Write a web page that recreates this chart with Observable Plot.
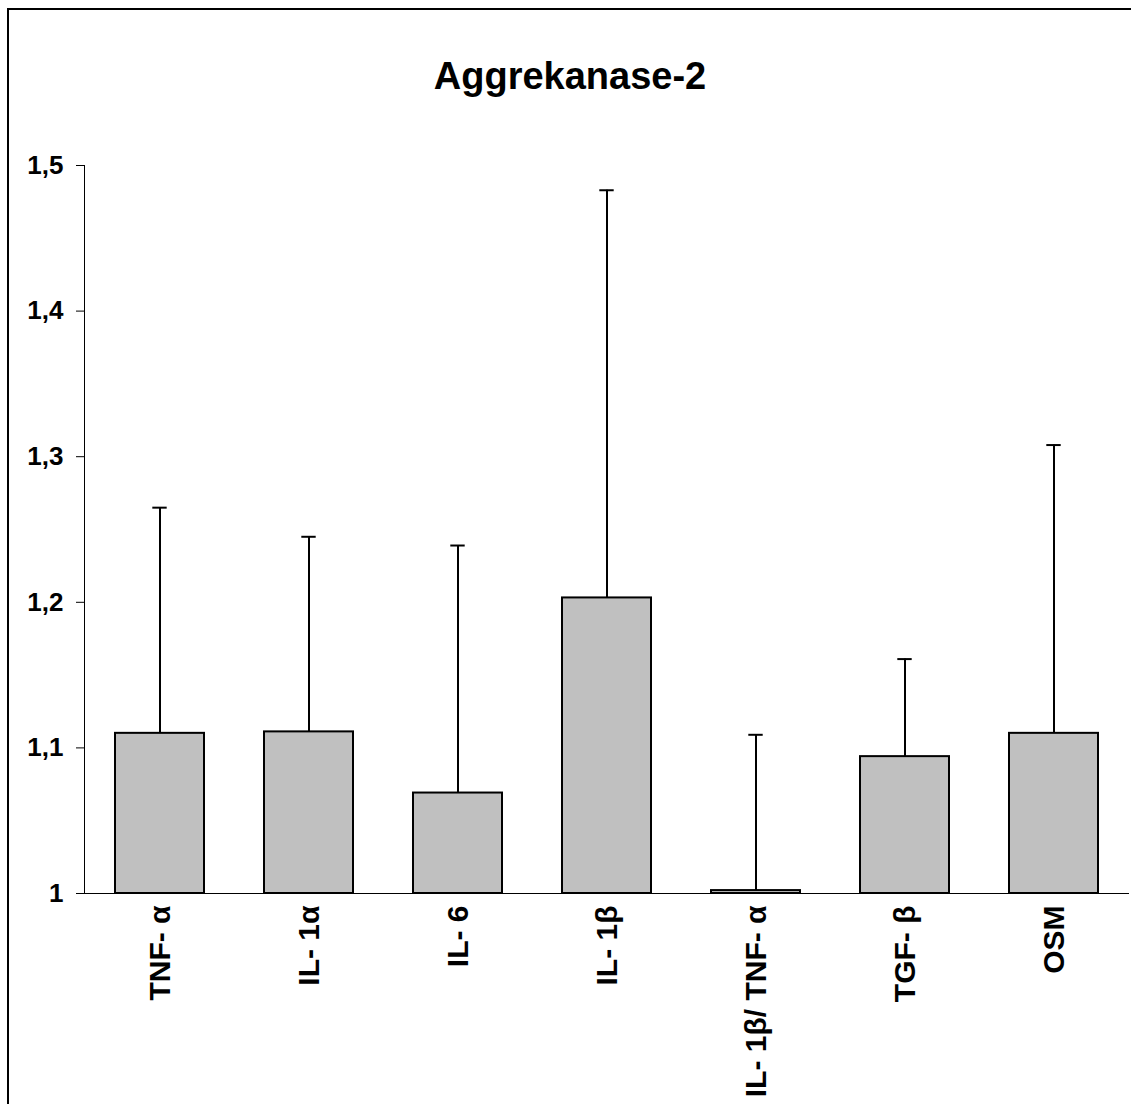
<!DOCTYPE html>
<html>
<head>
<meta charset="utf-8">
<script src="https://cdn.jsdelivr.net/npm/d3@7"></script>
<script src="https://cdn.jsdelivr.net/npm/@observablehq/plot@0.6"></script>
<style>
  html, body { margin: 0; padding: 0; background: #fff; overflow: hidden; }
  #wrap { position: relative; width: 1131px; height: 1104px; overflow: hidden; }
  #border { position: absolute; left: 7px; top: 8px; width: 1300px; height: 1300px;
            border-left: 2px solid #000; border-top: 2px solid #000; box-sizing: border-box; }
  #title { position: absolute; left: 0; top: 57px; width: 1140px; text-align: center;
           font-family: "Liberation Sans", Arial, sans-serif; font-weight: bold; font-size: 38px;
           line-height: 1; color: #000; }
  #chart { position: absolute; left: 0; top: 0; }
</style>
</head>
<body>
<div id="wrap">
  <div id="border"></div>
  <div id="title">Aggrekanase-2</div>
  <div id="chart"></div>
</div>
<script>
const categories = ["TNF- α", "IL- 1α", "IL- 6", "IL- 1β", "IL- 1β/ TNF- α", "TGF- β", "OSM"];
const means = [1.110, 1.111, 1.069, 1.203, 1.002, 1.094, 1.110];
const upper = [1.265, 1.245, 1.239, 1.483, 1.109, 1.161, 1.308];
const yTicks = [1, 1.1, 1.2, 1.3, 1.4, 1.5];
const yTickLabels = ["1", "1,1", "1,2", "1,3", "1,4", "1,5"];

const data = categories.map((c, i) => ({name: c, mean: means[i], upper: upper[i]}));

const plot = Plot.plot({
  width: 1131,
  height: 1104,
  marginTop: 165,
  marginBottom: 211,
  marginLeft: 84,
  marginRight: 2,
  style: {fontFamily: "'Liberation Sans', Arial, sans-serif", fontWeight: "bold", color: "#000", background: "transparent"},
  x: {domain: categories, paddingInner: 0.4, paddingOuter: 0.2, label: null},
  y: {domain: [1, 1.5], label: null},
  marks: [
    Plot.ruleX(data, {x: "name", y1: "mean", y2: "upper", stroke: "#000", strokeWidth: 2}),
    Plot.tickY(data, {x: "name", y: "upper", stroke: "#000", strokeWidth: 2, insetLeft: 37.3, insetRight: 37.3}),
    Plot.barY(data, {x: "name", y1: 1, y2: "mean", fill: "#c0c0c0", stroke: "#000", strokeWidth: 2}),
    Plot.ruleY([1], {stroke: "#000", strokeWidth: 1}),
    Plot.frame({anchor: "left", stroke: "#000", strokeWidth: 1}),
    Plot.axisY({ticks: yTicks, tickFormat: (d) => yTickLabels[yTicks.indexOf(d)], tickSize: 8, tickPadding: 13, fontSize: 26, fontWeight: "bold", label: null, stroke: "#000", strokeOpacity: 1}),
    Plot.axisX({tickSize: 0, tickPadding: 12, tickRotate: -90, fontSize: 30, fontWeight: "bold", label: null})
  ]
});
document.getElementById("chart").appendChild(plot);
</script>
</body>
</html>
